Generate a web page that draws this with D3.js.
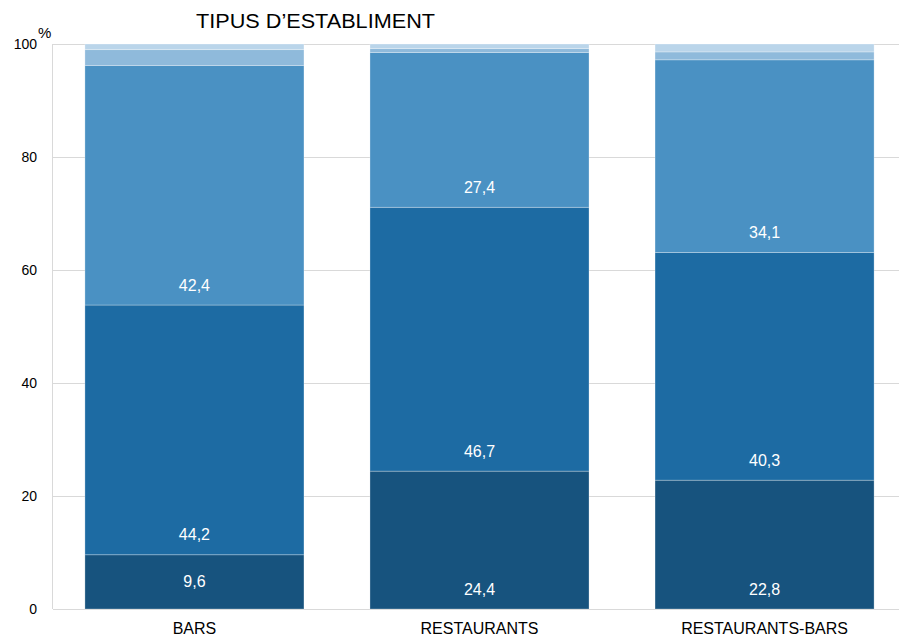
<!DOCTYPE html>
<html><head><meta charset="utf-8">
<script src="https://cdn.jsdelivr.net/npm/d3@7"></script>
<style>body{margin:0;background:#fff;}svg{display:block;font-family:"Liberation Sans",Arial,sans-serif;}</style>
</head><body>
<svg id="c" width="899" height="637"></svg>
<script>
const categories = ["BARS", "RESTAURANTS", "RESTAURANTS-BARS"];
const seriesNames = ["s1", "s2", "s3", "s4", "s5"];
const s1 = [9.6, 24.4, 22.8];
const s2 = [44.2, 46.7, 40.3];
const s3 = [42.4, 27.4, 34.1];
const s4 = [2.8, 0.7, 1.4];
const s5 = [1.0, 0.8, 1.4];
const showLabel = [true, true, true, false, false];
const colors = ["#17537e", "#1d6ba3", "#4a91c3", "#8fbadb", "#bad5ea"];
const yTicks = [0, 20, 40, 60, 80, 100];
const title = "TIPUS D\u2019ESTABLIMENT";

const series = [s1, s2, s3, s4, s5];
const svg = d3.select("#c");
const W = 899;
const y = d3.scaleLinear().domain([0, 100]).range([609, 44]);
const x = d3.scaleBand().domain(categories).range([53, 906]).paddingInner(0.2316).paddingOuter(0.112);

// gridlines
svg.append("g").selectAll("line").data(yTicks).join("line")
  .attr("x1", 53).attr("x2", W).attr("y1", d => Math.round(y(d)) + 0.5).attr("y2", d => Math.round(y(d)) + 0.5)
  .attr("stroke", "#d9d9d9").attr("stroke-width", 1);
// left axis line
svg.append("line").attr("x1", 52.5).attr("x2", 52.5).attr("y1", y(100)).attr("y2", y(0))
  .attr("stroke", "#d9d9d9");

// tick labels
svg.append("g").selectAll("text").data(yTicks).join("text")
  .attr("x", 37).attr("y", d => y(d)).attr("dy", "0.35em")
  .attr("text-anchor", "end").attr("font-size", 14).attr("fill", "#000")
  .text(d => d);
svg.append("text").attr("x", 38).attr("y", 38).attr("font-size", 15).text("%");

// stacked data
const rows = categories.map((c, i) => {
  const o = { cat: c };
  seriesNames.forEach((s, k) => o[s] = series[k][i]);
  return o;
});
const stack = d3.stack().keys(seriesNames)(rows);

const g = svg.append("g");
stack.forEach((layer, k) => {
  g.append("g").selectAll("rect").data(layer).join("rect")
    .attr("x", d => x(d.data.cat))
    .attr("width", x.bandwidth())
    .attr("y", d => y(d[1]))
    .attr("height", d => y(d[0]) - y(d[1]))
    .attr("fill", colors[k])
    .attr("stroke", "rgba(255,255,255,0.35)")
    .attr("stroke-width", 0.8);
});

// labels
stack.forEach((layer, k) => {
  if (!showLabel[k]) return;
  g.append("g").selectAll("text").data(layer).join("text")
    .attr("x", d => x(d.data.cat) + x.bandwidth() / 2)
    .attr("y", d => {
      const h = y(d[0]) - y(d[1]);
      return h < 60 ? (y(d[0]) + y(d[1])) / 2 : y(d[0]) - 20;
    })
    .attr("dy", "0.35em")
    .attr("text-anchor", "middle").attr("font-size", 16).attr("fill", "#fff")
    .text(d => d3.format(".1f")(d[1] - d[0]).replace(".", ","));
});

// x-axis labels
svg.append("g").selectAll("text").data(categories).join("text")
  .attr("x", d => x(d) + x.bandwidth() / 2).attr("y", 628).attr("dy", "0.35em")
  .attr("text-anchor", "middle").attr("font-size", 16).attr("fill", "#000")
  .text(d => d);

// title
svg.append("text").attr("x", 196).attr("y", 28).attr("font-size", 20)
  .attr("textLength", 239).attr("lengthAdjust", "spacingAndGlyphs")
  .attr("fill", "#000").text(title);
</script>
</body></html>
